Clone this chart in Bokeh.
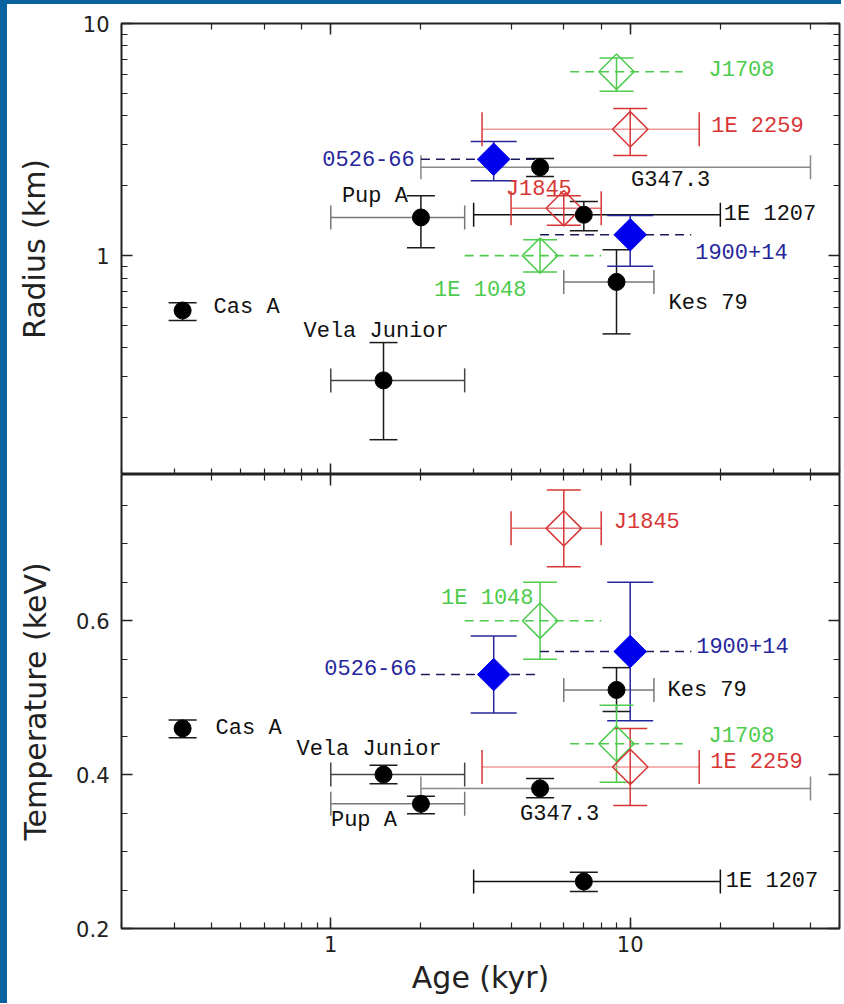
from bokeh.plotting import figure
from bokeh.models import (Range1d, LogAxis, LinearAxis, Whisker, ColumnDataSource, TeeHead,
                          SingleIntervalTicker, LogTicker, FixedTicker, BasicTickFormatter)
from bokeh.layouts import column
from bokeh.embed import file_html
from bokeh.resources import INLINE
from bokeh.core.properties import value

# ---------------- data ----------------
# CCOs (black filled circles)
cco_names = ["Cas A", "Vela Junior", "Pup A", "G347.3", "1E 1207", "Kes 79"]
cco_age = [0.32, 1.5, 2.0, 5.0, 7.0, 9.0]
cco_age_lo = [0.32, 1.0, 1.0, 2.0, 3.0, 6.0]
cco_age_hi = [0.32, 2.8, 2.8, 40.0, 20.0, 12.0]
cco_radius = [0.58, 0.29, 1.46, 2.4, 1.5, 0.77]
cco_radius_lo = [0.525, 0.161, 1.08, 2.19, 1.28, 0.46]
cco_radius_hi = [0.627, 0.422, 1.81, 2.62, 1.71, 1.06]
cco_temp = [0.46, 0.40, 0.362, 0.382, 0.261, 0.51]
cco_temp_lo = [0.448, 0.388, 0.349, 0.37, 0.248, 0.482]
cco_temp_hi = [0.471, 0.412, 0.372, 0.395, 0.273, 0.539]

# magnetars (filled blue diamonds, dashed age ranges)
mag_names = ["0526-66", "1900+14"]
mag_age = [3.5, 10.0]
mag_age_lo = [2.0, 5.0]
mag_age_hi = [5.0, 16.0]
mag_radius = [2.6, 1.23]
mag_radius_lo = [2.1, 0.90]
mag_radius_hi = [3.1, 1.49]
mag_temp = [0.53, 0.56]
mag_temp_lo = [0.48, 0.47]
mag_temp_hi = [0.58, 0.65]

# AXPs (open diamonds)
axp_names = ["J1708", "1E 2259", "J1845", "1E 1048"]
axp_age = [9.0, 10.0, 6.0, 5.0]
axp_age_lo = [6.3, 3.2, 4.0, 2.8]
axp_age_hi = [15.0, 17.0, 8.0, 8.0]
axp_radius = [6.2, 3.5, 1.6, 1.0]
axp_radius_lo = [5.1, 2.7, 1.35, 0.85]
axp_radius_hi = [7.1, 4.3, 1.81, 1.17]
axp_temp = [0.44, 0.41, 0.72, 0.60]
axp_temp_lo = [0.39, 0.36, 0.67, 0.55]
axp_temp_hi = [0.49, 0.46, 0.77, 0.65]
axp_age_dashed = [True, False, False, True]

# axis ticks / labels
radius_major_ticks = [0.1, 1, 10]
radius_minor_ticks = [0.2, 0.3, 0.4, 0.5, 0.6, 0.7, 0.8, 0.9, 2, 3, 4, 5, 6, 7, 8, 9]
x_label = "Age (kyr)"
y_label_top = "Radius (km)"
y_label_bot = "Temperature (keV)"

# ---------------- styles ----------------
GREEN = "#4ccb4c"
RED = "#d83636"
PINK = "#f09a9a"
BLUE = "#0000ee"
NAVY = "#26269c"
DASHNAVY = "#1c1c5a"
FRAME_BLUE = "#0b62a0"
LABEL_FONT = value("Liberation Mono")
LABEL_SIZE = "22px"
AX_FONT = "DejaVu Sans"

cco_xbar_colors = ["#333333", "#444444", "#777777", "#888888", "#111111", "#777777"]
axp_colors = [GREEN, RED, RED, GREEN]
axp_xbar_colors = [GREEN, PINK, "#e07070", GREEN]

# label offsets (px) relative to the point: (dx, dy, align)
cco_off_top = [(31, -3, "left"), (-80, -49, "left"), (-13, -21, "right"), (91, 13, "left"), (140, 0, "left"), (52, 22, "left")]
cco_off_bot = [(33, 0, "left"), (-87, -25, "left"), (-90, 17, "left"), (-20, 26, "left"), (142, 0, "left"), (51, 1, "left")]
mag_off_top = [(-79, -1, "right"), (65, 17, "left")]
mag_off_bot = [(-77, -7, "right"), (66, -6, "left")]
axp_off_top = [(92, -1, "left"), (81, -3, "left"), (-58, -19, "left"), (-106, 35, "left")]
axp_off_bot = [(92, -7, "left"), (80, -4, "left"), (50, -6, "left"), (-99, -22, "left")]

x_range = Range1d(0.2, 50)


def style_axis(ax, labels=True):
    ax.major_tick_in = 11
    ax.major_tick_out = 0
    ax.minor_tick_in = 6
    ax.minor_tick_out = 0
    ax.major_tick_line_color = "#222222"
    ax.minor_tick_line_color = "#222222"
    ax.major_tick_line_width = 1.5
    ax.minor_tick_line_width = 1.2
    ax.axis_line_color = None
    if labels:
        ax.major_label_text_font = AX_FONT
        ax.major_label_text_font_size = "21px"
        ax.major_label_text_color = "#222222"
        ax.major_label_standoff = 12
        ax.axis_label_text_font = AX_FONT
        ax.axis_label_text_font_size = "30px"
        ax.axis_label_text_font_style = "normal"
        ax.axis_label_text_color = "#222222"
    else:
        ax.major_label_text_font_size = "1px"
        ax.major_label_text_color = None
        ax.major_label_standoff = 0


def make_fig(height, y_range, y_log, border_top, border_bottom):
    p = figure(width=834, height=height, x_range=x_range, y_range=y_range,
               x_axis_type="log", y_axis_type="log" if y_log else "linear",
               output_backend="svg", toolbar_location=None,
               min_border_left=114, min_border_right=2,
               min_border_top=border_top, min_border_bottom=border_bottom,
               background_fill_color="white", border_fill_color="white")
    p.xgrid.visible = False
    p.ygrid.visible = False
    p.outline_line_color = "#222222"
    p.outline_line_width = 2
    return p


def add_whisker(p, base, lo, hi, dim, color, cap, dash="solid", width=1.5, cap_color=None):
    src = ColumnDataSource(dict(base=[base], lo=[lo], hi=[hi]))
    cc = cap_color or color
    w = Whisker(source=src, base="base", lower="lo", upper="hi", dimension=dim,
                line_color=color, line_width=width, line_dash=dash,
                lower_head=TeeHead(size=cap, line_color=cc, line_width=width),
                upper_head=TeeHead(size=cap, line_color=cc, line_width=width))
    p.add_layout(w)


def add_labels(p, xs, ys, names, offs, colors):
    for x, y, n, (dx, dy, al), c in zip(xs, ys, names, offs, colors):
        p.text(x=[x], y=[y], text=[n], x_offset=dx, y_offset=dy, text_align=al,
               text_baseline="middle", text_font=LABEL_FONT, text_font_size=LABEL_SIZE,
               text_color=c)


def draw_panel(p, cy, cy_lo, cy_hi, my, my_lo, my_hi, ay, ay_lo, ay_hi, cco_off, mag_off, axp_off):
    # CCO error bars
    for i in range(len(cco_names)):
        if cco_age_lo[i] != cco_age_hi[i]:
            add_whisker(p, cy[i], cco_age_lo[i], cco_age_hi[i], "width", cco_xbar_colors[i], 24)
        add_whisker(p, cco_age[i], cy_lo[i], cy_hi[i], "height", "#1a1a1a", 28)
    # magnetars
    for i in range(len(mag_names)):
        p.segment(x0=[mag_age_lo[i]], y0=[my[i]], x1=[mag_age_hi[i]], y1=[my[i]],
                  line_color=DASHNAVY, line_width=1.6, line_dash="9 6")
        add_whisker(p, mag_age[i], my_lo[i], my_hi[i], "height", NAVY, 46)
    # AXPs
    for i in range(len(axp_names)):
        if axp_age_dashed[i]:
            p.segment(x0=[axp_age_lo[i]], y0=[ay[i]], x1=[axp_age_hi[i]], y1=[ay[i]],
                      line_color=axp_colors[i], line_width=1.6, line_dash="9 6")
        else:
            add_whisker(p, ay[i], axp_age_lo[i], axp_age_hi[i], "width", axp_xbar_colors[i], 34,
                        cap_color=axp_colors[i])
        add_whisker(p, axp_age[i], ay_lo[i], ay_hi[i], "height", axp_colors[i], 34)
    # markers
    p.scatter(x=axp_age, y=ay, marker="square", angle=0.7854, size=25,
              fill_color=None, line_color=axp_colors, line_width=1.5)
    p.scatter(x=mag_age, y=my, marker="square", angle=0.7854, size=23,
              fill_color=BLUE, line_color=BLUE)
    p.scatter(x=cco_age, y=cy, marker="circle", size=17, fill_color="black", line_color="black")
    # labels
    add_labels(p, cco_age, cy, cco_names, cco_off, ["#111111"] * len(cco_names))
    add_labels(p, mag_age, my, mag_names, mag_off, [NAVY] * len(mag_names))
    add_labels(p, axp_age, ay, axp_names, axp_off, axp_colors)


def radius_ticker():
    return FixedTicker(ticks=radius_major_ticks, minor_ticks=radius_minor_ticks)


# ---------------- top panel ----------------
p1 = make_fig(470, Range1d(0.114, 10), True, 19, 0)
draw_panel(p1, cco_radius, cco_radius_lo, cco_radius_hi, mag_radius, mag_radius_lo, mag_radius_hi,
           axp_radius, axp_radius_lo, axp_radius_hi, cco_off_top, mag_off_top, axp_off_top)
style_axis(p1.xaxis[0], labels=False)
p1.yaxis[0].ticker = radius_ticker()
p1.yaxis[0].formatter = BasicTickFormatter()
p1.yaxis[0].axis_label = y_label_top
style_axis(p1.yaxis[0])
p1.yaxis[0].axis_label_standoff = 28
ax_t = LogAxis(ticker=LogTicker())
style_axis(ax_t, labels=False)
p1.add_layout(ax_t, "above")
ax_r = LogAxis(ticker=radius_ticker())
style_axis(ax_r, labels=False)
p1.add_layout(ax_r, "right")

# ---------------- bottom panel ----------------
p2 = make_fig(529, Range1d(0.2, 0.79), False, 0, 75)
draw_panel(p2, cco_temp, cco_temp_lo, cco_temp_hi, mag_temp, mag_temp_lo, mag_temp_hi,
           axp_temp, axp_temp_lo, axp_temp_hi, cco_off_bot, mag_off_bot, axp_off_bot)
p2.xaxis[0].formatter = BasicTickFormatter()
p2.xaxis[0].axis_label = x_label
style_axis(p2.xaxis[0])
p2.xaxis[0].major_label_standoff = 7
p2.xaxis[0].axis_label_standoff = 5
p2.yaxis[0].ticker = SingleIntervalTicker(interval=0.2, num_minor_ticks=4)
p2.yaxis[0].axis_label = y_label_bot
style_axis(p2.yaxis[0])
p2.yaxis[0].axis_label_standoff = 20
bx_t = LogAxis(ticker=LogTicker())
style_axis(bx_t, labels=False)
p2.add_layout(bx_t, "above")
bx_r = LinearAxis(ticker=SingleIntervalTicker(interval=0.2, num_minor_ticks=4))
style_axis(bx_r, labels=False)
p2.add_layout(bx_r, "right")

layout = column(p1, p2, spacing=0,
                styles={"border-left": "7px solid " + FRAME_BLUE,
                        "border-top": "4px solid " + FRAME_BLUE})
open("out.html", "w").write(file_html(layout, INLINE))
